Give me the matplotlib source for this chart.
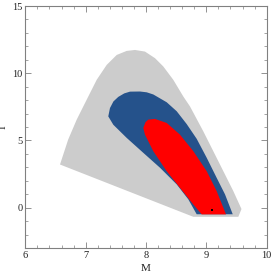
import matplotlib
matplotlib.use("Agg")
import matplotlib.pyplot as plt
from matplotlib.ticker import MultipleLocator

# outer (gray) region boundary
gray_m = [6.575, 6.71, 6.852, 7.017, 7.183, 7.349, 7.515, 7.68, 7.818, 7.983, 8.149,
          8.287, 8.452, 8.618, 8.729, 8.949, 9.226, 9.447, 9.582, 9.53, 8.784]
gray_i = [3.21, 5.06, 6.55, 8.03, 9.51, 10.62, 11.36, 11.66, 11.73, 11.61, 11.12,
          10.50, 9.51, 8.27, 7.53, 5.68, 3.21, 1.23, -0.10, -0.68, -0.68]

# middle (blue) region
blue_m = [7.375, 7.403, 7.460, 7.541, 7.640, 7.735, 7.901, 8.012, 8.121, 8.343, 8.509,
          8.674, 8.840, 9.006, 9.171, 9.309, 9.437, 8.840, 8.701, 8.509, 8.232, 7.955,
          7.680, 7.458]
blue_i = [6.79, 7.41, 7.90, 8.24, 8.50, 8.63, 8.64, 8.58, 8.42, 7.84, 7.17,
          6.22, 5.12, 3.71, 2.22, 0.99, -0.49, -0.49, 0.62, 1.73, 2.97, 4.08,
          5.19, 6.17]

# inner (red) region
red_m = [8.038, 8.149, 8.343, 8.563, 8.784, 9.006, 9.171, 9.326,
         8.923, 8.784, 8.563, 8.343, 8.121, 7.983, 7.955, 7.992]
red_i = [6.55, 6.60, 6.30, 5.43, 4.20, 2.71, 1.23, -0.50,
         -0.50, 0.24, 1.48, 2.71, 4.20, 5.43, 5.93, 6.36]

# best-fit point
best_m = [9.10]
best_i = [-0.2]

fig = plt.figure(figsize=(2.73, 2.75), dpi=100)
ax = fig.add_axes([25.3 / 273, 1 - 248 / 275, 241.4 / 273, 242 / 275])

ax.fill(gray_m, gray_i, color='#cccccc', lw=0)
ax.fill(blue_m, blue_i, color='#25528b', lw=0)
ax.fill(red_m, red_i, color='#ff0000', lw=0)
ax.plot(best_m, best_i, 's', color='black', ms=1.6, mew=0)

ax.set_xlim(6, 10)
ax.set_ylim(-3, 15)
ax.xaxis.set_major_locator(MultipleLocator(1))
ax.xaxis.set_minor_locator(MultipleLocator(0.2))
ax.yaxis.set_major_locator(MultipleLocator(5))
ax.yaxis.set_minor_locator(MultipleLocator(1))

frame = '#808080'
for s in ax.spines.values():
    s.set_color(frame)
    s.set_linewidth(0.8)
ax.tick_params(which='both', direction='in', top=True, right=True, color=frame,
               labelcolor='#222222', labelsize=7.5, pad=2)
ax.tick_params(which='major', length=4, width=0.6)
ax.tick_params(which='minor', length=2, width=0.5)
for lab in ax.get_xticklabels() + ax.get_yticklabels():
    lab.set_family('Liberation Serif')

ax.set_xlabel('M', family='Liberation Serif', fontsize=8, color='#222222', labelpad=3)
ax.set_ylabel('I', family='Liberation Serif', fontsize=8, color='#222222')
ax.yaxis.set_label_coords(-0.072, 0.5)

fig.savefig('out.png', dpi=100)
